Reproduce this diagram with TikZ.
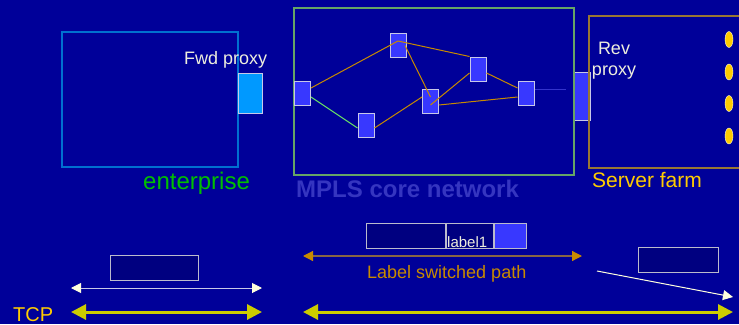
\documentclass[tikz,border=0pt]{standalone}
\usepackage{fontspec}
\setmainfont{Liberation Sans}
\usetikzlibrary{shapes.geometric,arrows.meta}

\definecolor{bgblue}{HTML}{000099}
\definecolor{entblue}{HTML}{0070D0}
\definecolor{proxyfill}{HTML}{0099FF}
\definecolor{routerfill}{HTML}{3838FF}
\definecolor{routeredge}{HTML}{C8C8E8}
\definecolor{coreedge}{HTML}{66A566}
\definecolor{linkorange}{HTML}{C88A00}
\definecolor{linkgreen}{HTML}{66DD66}
\definecolor{linkblue}{HTML}{3333CC}
\definecolor{coretext}{HTML}{3535C0}
\definecolor{farmedge}{HTML}{997733}
\definecolor{gold}{HTML}{FFCC00}
\definecolor{entgreen}{HTML}{00C000}
\definecolor{lighttext}{HTML}{EEEEDD}
\definecolor{pktfill}{HTML}{000080}
\definecolor{pktedge}{HTML}{BBBBCC}
\definecolor{tcpyellow}{HTML}{CCCC00}
\definecolor{lspline}{HTML}{886644}
\definecolor{whitehead}{HTML}{FFFFDD}

\tikzset{
  txt/.style={inner sep=0pt, anchor=base west},
  router/.style={rectangle, draw=routeredge, fill=routerfill, line width=1pt,
    minimum width=16pt, minimum height=24pt, inner sep=0pt},
  link/.style={draw=linkorange, line width=1pt},
  pkt/.style={rectangle, draw=pktedge, fill=pktfill, line width=1pt,
    minimum height=25pt, inner sep=0pt},
  server/.style={ellipse, fill=gold, draw=whitehead, line width=0.4pt,
    minimum width=8pt, minimum height=16pt, inner sep=0pt},
  tcparrow/.style={draw=tcpyellow, line width=3pt,
    {Triangle[length=15pt,width=15pt,fill=tcpyellow]}-{Triangle[length=15pt,width=15pt,fill=tcpyellow]}},
}

\begin{document}
\begin{tikzpicture}[x=1pt,y=-1pt]
  % canvas
  \fill[bgblue] (0,0) rectangle (739,324);
  \useasboundingbox (0,0) rectangle (739,324);
  \clip (0,0) rectangle (739,324);

  % enterprise
  \draw[entblue, line width=1.2pt] (62,32) rectangle (238,167);
  \node[rectangle, draw=routeredge, fill=proxyfill, line width=1pt,
        minimum width=24pt, minimum height=40pt, inner sep=0pt] (fwd) at (250,93) {};
  \node[txt, text=lighttext, font=\fontsize{18}{21}\selectfont] (fwdlbl) at (184,64) {Fwd proxy};
  \node[txt, text=entgreen, font=\fontsize{24}{28}\selectfont] (entlbl) at (143,189) {enterprise};

  % MPLS core
  \node[router, minimum height=48pt] (eg) at (582,96) {};
  \draw[coreedge, line width=1.2pt] (294,8) rectangle (574,175);
  \node[txt, text=coretext, font=\fontsize{24}{28}\selectfont\bfseries] (corelbl) at (296,197) {MPLS core network};

  \node[router] (n1) at (302.5,93) {};
  \node[router] (n2) at (398,45.5) {};
  \node[router] (n3) at (366,125) {};
  \node[router] (n4) at (430.5,101) {};
  \node[router] (n5) at (478,69) {};
  \node[router] (n6) at (526,93) {};
  \coordinate (tail) at (566,89);

  \draw[link] ([yshift=5pt]n1.east) -- ([yshift=4.5pt]n2.center);
  \draw[link] ([yshift=4.5pt]n2.center) -- (n5.north west);
  \draw[link] ([xshift=7pt]n2.center) -- ([yshift=4pt]n4.center);
  \draw[linkgreen, line width=1pt] ([yshift=-4pt]n1.east) -- ([yshift=-3pt]n3.west);
  \draw[link] ([yshift=-3pt]n3.east) -- ([yshift=4pt]n4.west);
  \draw[link] ([yshift=-4pt]n4.center) -- ([yshift=-4pt]n5.west);
  \draw[link] ([yshift=-4pt]n4.east) -- ([yshift=-4pt]n6.west);
  \draw[link] ([yshift=-4pt]n5.east) -- ([yshift=5pt]n6.west);
  \draw[linkblue, line width=1pt] ([yshift=4pt]n6.east) -- (tail);

  % server farm
  \draw[farmedge, line width=1.2pt] (589,16) rectangle (760,168);
  \node[inner sep=0pt, anchor=north, align=center, text=lighttext,
        font=\fontsize{18}{21}\selectfont] (rev) at (614,42) {Rev\\proxy};
  \node[server] (s1) at (729,39.5) {};
  \node[server] (s2) at (729,72) {};
  \node[server] (s3) at (729,103.5) {};
  \node[server] (s4) at (729,136) {};
  \node[txt, text=gold, font=\fontsize{21}{25}\selectfont] (farmlbl) at (592,187) {Server farm};

  % packets
  \node[pkt, minimum width=88pt] (pk1) at (154,268) {};
  \node[pkt, minimum width=79pt] (pk2a) at (405.5,235.5) {};
  \node[pkt, minimum width=47pt] (pk2b) at (469.5,235.5) {};
  \node[pkt, minimum width=32pt, fill=routerfill] (pk2c) at (510,235.5) {};
  \node[txt, text=lighttext, font=\fontsize{15}{17}\selectfont] (lbl1) at (447,247) {label1};
  \node[pkt, minimum width=80pt] (pk3) at (678,260) {};

  % end points of the arrows
  \coordinate (a1) at (71,288);   \coordinate (a2) at (262,288);
  \coordinate (t1) at (71,312);   \coordinate (t2) at (262,312);
  \coordinate (t3) at (303,312);  \coordinate (t4) at (733,312);
  \coordinate (l1) at (303,256);  \coordinate (l2) at (582,256);
  \coordinate (d1) at (597,271);  \coordinate (d2) at (733,297);

  \draw[draw=routeredge, line width=1pt,
        {Triangle[length=10pt,width=10pt,fill=whitehead,color=whitehead]}-{Triangle[length=10pt,width=10pt,fill=whitehead,color=whitehead]}] (a1) -- (a2);
  \draw[tcparrow] (t1) -- (t2);
  \draw[tcparrow] (t3) -- (t4);
  \draw[draw=lspline, line width=1.2pt,
        {Triangle[length=10pt,width=10pt,fill=linkorange,color=linkorange]}-{Triangle[length=10pt,width=10pt,fill=linkorange,color=linkorange]}] (l1) -- (l2);
  \draw[draw=whitehead, line width=1pt,
        -{Triangle[length=10pt,width=10pt,fill=whitehead]}] (d1) -- (d2);

  \node[txt, text=linkorange, font=\fontsize{18}{21}\selectfont] (lsplbl) at (367,278) {Label switched path};
  \node[txt, text=gold, font=\fontsize{20}{24}\selectfont] (tcplbl) at (13,321) {TCP};
\end{tikzpicture}
\end{document}
